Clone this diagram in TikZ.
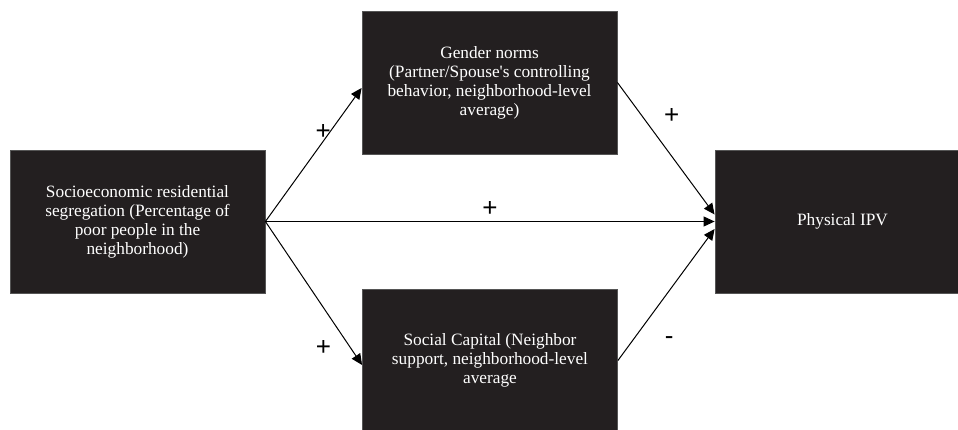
\documentclass[tikz,border=0pt]{standalone}
\usepackage{fontspec}
\setmainfont{Liberation Serif}
\newfontfamily\signfont{Liberation Sans}
\usepackage{tikz}
\usetikzlibrary{arrows.meta}
\usetikzlibrary{calc}

\definecolor{boxblack}{HTML}{231F20}
\definecolor{boxedge}{HTML}{555555}

\begin{document}
\begin{tikzpicture}[x=1pt,y=1pt,>/.tip={Triangle[length=11pt,width=10pt]},
	blk/.style={draw=boxedge,fill=boxblack,text=white,line width=0.8pt,minimum width=255pt,minimum height=143pt,align=center,font=\fontsize{17.3}{19}\selectfont},
	sign/.style={font=\signfont\fontsize{26}{26}\selectfont,inner sep=0pt}]
	\useasboundingbox (0,0) rectangle (958,429);
	\draw (137.5,207.5) node (seg) [blk] {Socioeconomic residential\\segregation (Percentage of\\poor people in the\\neighborhood)};
	\draw (489.5,346.5) node (gender) [blk] {Gender norms\\(Partner/Spouse\textquotesingle s controlling\\behavior, neighborhood-level\\average)};
	\draw (490,68.5) node (social) [blk] {Social Capital (Neighbor\\support, neighborhood-level\\average};
	\draw (842.5,207.5) node (ipv) [blk] {Physical IPV};

	\path[->,line width=1pt] (seg.east) edge node [sign,pos=.6,yshift=9pt] (s1) {+} ([yshift=-5.5pt]gender.west);
	\path[->,line width=1pt] (seg.east) edge node [sign,pos=.5,yshift=13pt] (s2) {+} (ipv.west);
	\path[->,line width=1pt] (seg.east) edge node [sign,pos=.88,xshift=-27pt] (s3) {+} ([yshift=-4.5pt]social.west);
	\path[->,line width=1pt] (gender.east) edge node [sign,pos=.25,xshift=30pt] (s4) {+} ([yshift=7pt]ipv.west);
	\path[->,line width=1pt] (social.east) edge node [sign,pos=.19,xshift=33pt,yshift=-5pt] (s5) {-} ([yshift=-7.5pt]ipv.west);
\end{tikzpicture}
\end{document}
